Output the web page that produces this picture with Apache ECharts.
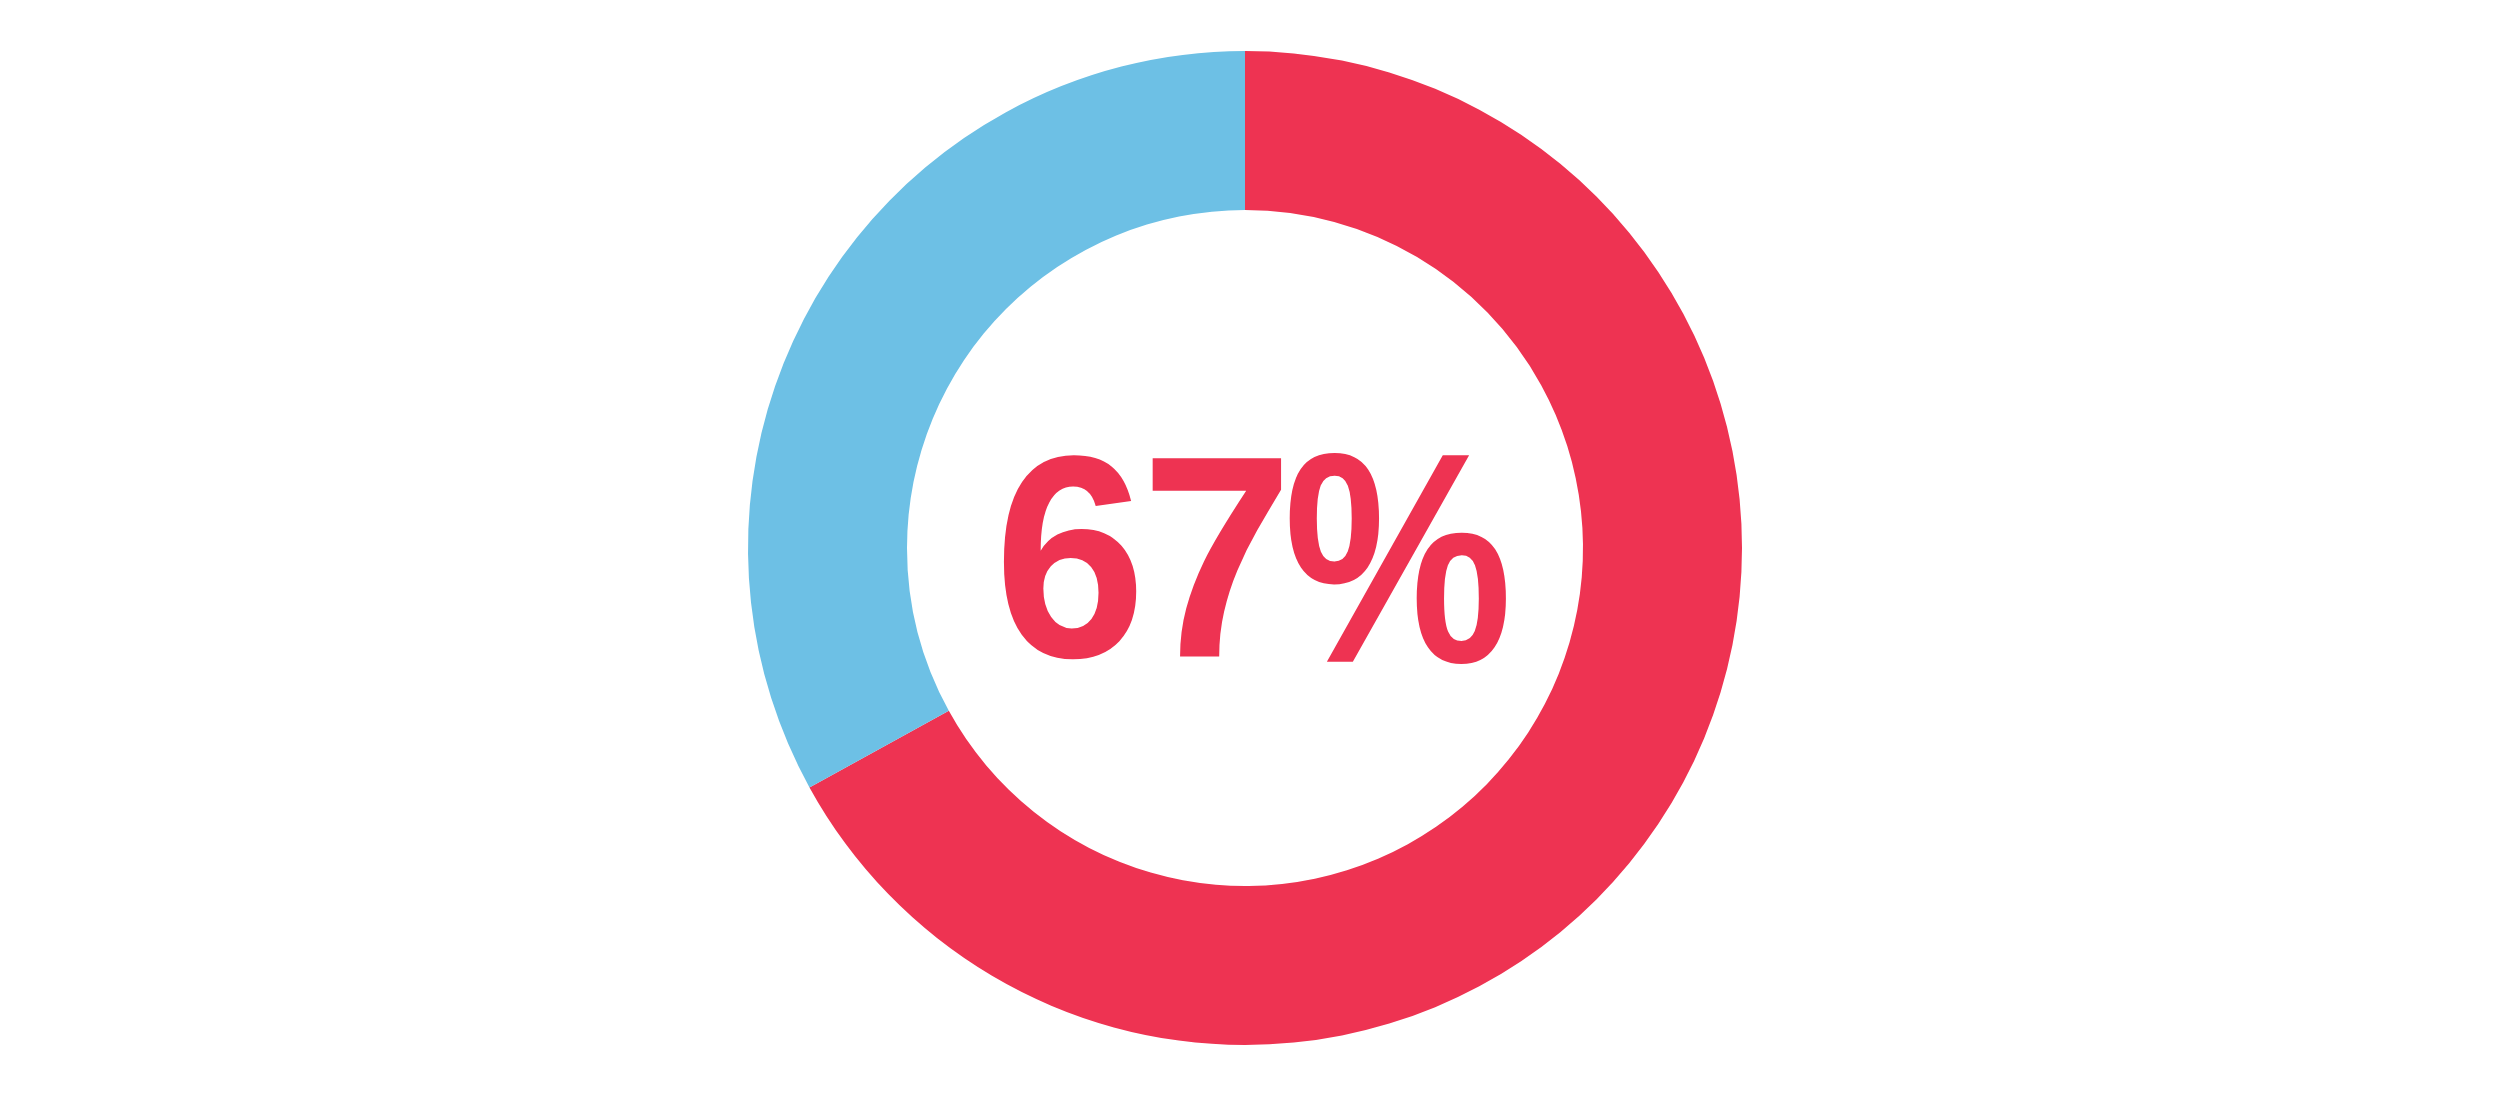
<!DOCTYPE html>
<html>
<head>
<meta charset="utf-8">
<script src="https://cdn.jsdelivr.net/npm/echarts@6/dist/echarts.min.js"></script>
<style>
html,body{margin:0;padding:0;background:#fff;}
#chart{width:2500px;height:1095px;}
</style>
</head>
<body>
<div id="chart"></div>
<script>
const categories = ['Yes', 'No'];
const values = [67, 33];
const colors = ['#EE3352', '#6DC0E5'];

const label = values[0] + '%';
// layout of each glyph of the centre label: [centre x, centre y, font size, scaleX]
const glyphLayout = [
  [1070, 577, 288, 0.95],
  [1217, 577, 288, 0.95],
  [1398, 579, 300, 0.86]
];

const chart = echarts.init(document.getElementById('chart'), null, {renderer: 'canvas'});
chart.setOption({
  animation: false,
  backgroundColor: '#ffffff',
  series: [{
    type: 'pie',
    center: [1245, 548],
    radius: [338, 497],
    startAngle: 90,
    clockwise: true,
    silent: true,
    label: {show: false},
    labelLine: {show: false},
    data: categories.map((c, i) => ({name: c, value: values[i], itemStyle: {color: colors[i]}}))
  }],
  graphic: label.split('').map((ch, i) => ({
    type: 'text',
    x: glyphLayout[i][0],
    y: glyphLayout[i][1],
    scaleX: glyphLayout[i][3],
    style: {
      text: ch,
      fill: colors[0],
      font: 'bold ' + glyphLayout[i][2] + 'px "Liberation Sans"',
      textAlign: 'center',
      textVerticalAlign: 'middle'
    }
  }))
});
</script>
</body>
</html>
